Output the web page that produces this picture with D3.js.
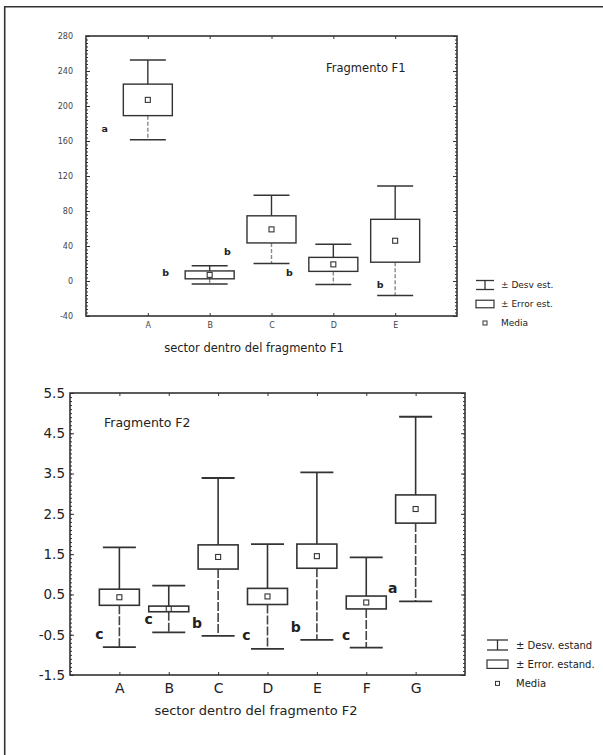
<!DOCTYPE html>
<html>
<head>
<meta charset="utf-8">
<script src="https://cdn.jsdelivr.net/npm/d3@7"></script>
<style>
body { margin: 0; background: #fff; }
svg { display: block; font-family: "DejaVu Sans", sans-serif; }
</style>
</head>
<body>
<svg id="chart" width="603" height="755"></svg>
<script>
// values (mean, +- standard error, +- standard deviation)
var f1Sectors = ["A", "B", "C", "D", "E"];
var f1Means = [207, 7, 59, 19, 46];
var f1SE = [18, 4.5, 15.5, 8, 24.5];
var f1SD = [45.5, 10.5, 39, 23, 62.5];
var f1Letters = ["a", "b", "b", "b", "b"];
var f1LetterAt = [174, 10, 33, 9, -4];
var f1Ticks = [-40, 0, 40, 80, 120, 160, 200, 240, 280];

var f2Sectors = ["A", "B", "C", "D", "E", "F", "G"];
var f2Means = [0.43, 0.14, 1.43, 0.45, 1.45, 0.30, 2.62];
var f2SE = [0.20, 0.07, 0.30, 0.20, 0.30, 0.16, 0.35];
var f2SD = [1.24, 0.58, 1.96, 1.30, 2.08, 1.12, 2.29];
var f2Letters = ["c", "c", "b", "c", "b", "c", "a"];
var f2LetterAt = [-0.49, -0.12, -0.2, -0.5, -0.3, -0.5, 0.65];
var f2Ticks = [-1.5, -0.5, 0.5, 1.5, 2.5, 3.5, 4.5, 5.5];

var ink = "#333";
var svg = d3.select("#chart");

// outer frame of the page (only top and left edges are visible)
svg.append("path")
    .attr("d", "M4.7,755V6.7H603")
    .attr("fill", "none")
    .attr("stroke", "#333")
    .attr("stroke-width", 1.6);

function drawPanel(p) {
    var x = d3.scalePoint().domain(p.sectors).range([p.left, p.right]).padding(1);
    var y = d3.scaleLinear().domain(p.domain).range([p.bottom, p.top]);
    var g = svg.append("g");

    var rows = p.sectors.map(function(s, i) {
        return {s: s, m: p.means[i], se: p.se[i], sd: p.sd[i],
                letter: p.letters[i], at: p.letterAt[i], dx: p.letterDx[i]};
    });

    // minor ticks, left and right
    var nMinor = Math.round((p.domain[1] - p.domain[0]) / p.minorStep);
    var minor = d3.range(nMinor + 1).map(function(i) { return p.domain[0] + i * p.minorStep; });
    g.append("g").attr("transform", "translate(" + p.left + ",0)")
        .call(d3.axisLeft(y).tickValues(minor).tickSize(-2).tickFormat(""));
    g.append("g").attr("transform", "translate(" + p.right + ",0)")
        .call(d3.axisRight(y).tickValues(minor).tickSize(-2).tickFormat(""));
    g.append("g").attr("transform", "translate(" + p.right + ",0)")
        .call(d3.axisRight(y).tickValues(p.ticks).tickSize(-4).tickFormat(""));

    // major y axis with labels
    var yAxis = g.append("g").attr("transform", "translate(" + p.left + ",0)")
        .call(d3.axisLeft(y).tickValues(p.ticks).tickSize(-4).tickPadding(p.yPad)
            .tickFormat(function(d) { return String(d); }));
    yAxis.selectAll("text").attr("font-size", p.yFont).attr("fill", p.yColor)
        .attr("font-family", "DejaVu Sans, sans-serif");

    // x axes
    var xAxis = g.append("g").attr("transform", "translate(0," + p.bottom + ")")
        .call(d3.axisBottom(x).tickSize(-3).tickPadding(p.xPad));
    xAxis.selectAll("text").attr("font-size", p.xFont).attr("fill", p.yColor)
        .attr("font-family", "DejaVu Sans, sans-serif");
    g.append("g").attr("transform", "translate(0," + p.top + ")")
        .call(d3.axisTop(x).tickSize(-3).tickFormat(""));

    g.selectAll(".domain").remove();
    g.selectAll(".tick line").attr("stroke", ink);

    // plot frame
    g.append("rect")
        .attr("x", p.left).attr("y", p.top)
        .attr("width", p.right - p.left).attr("height", p.bottom - p.top)
        .attr("fill", "none").attr("stroke", ink).attr("stroke-width", 1.6);

    var box = g.selectAll(".sector").data(rows).enter().append("g").attr("class", "sector");

    // upper whisker
    box.append("line")
        .attr("x1", function(d) { return x(d.s); }).attr("x2", function(d) { return x(d.s); })
        .attr("y1", function(d) { return y(d.m + d.se); }).attr("y2", function(d) { return y(d.m + d.sd); })
        .attr("stroke", ink).attr("stroke-width", p.lineW);
    // lower whisker (lighter, broken)
    box.append("line")
        .attr("x1", function(d) { return x(d.s); }).attr("x2", function(d) { return x(d.s); })
        .attr("y1", function(d) { return y(d.m - d.se); }).attr("y2", function(d) { return y(d.m - d.sd); })
        .attr("stroke", p.lowColor).attr("stroke-width", p.lineW).attr("stroke-dasharray", p.lowDash);
    // caps
    [1, -1].forEach(function(sign) {
        box.append("line")
            .attr("x1", function(d) { return x(d.s) - p.capW / 2; })
            .attr("x2", function(d) { return x(d.s) + p.capW / 2; })
            .attr("y1", function(d) { return y(d.m + sign * d.sd); })
            .attr("y2", function(d) { return y(d.m + sign * d.sd); })
            .attr("stroke", ink).attr("stroke-width", p.lineW + 0.2);
    });
    // standard error box
    box.append("rect")
        .attr("x", function(d) { return x(d.s) - p.boxW / 2; })
        .attr("y", function(d) { return y(d.m + d.se); })
        .attr("width", p.boxW)
        .attr("height", function(d) { return y(d.m - d.se) - y(d.m + d.se); })
        .attr("fill", "#fff").attr("stroke", ink).attr("stroke-width", p.lineW);
    // mean marker
    box.append("rect")
        .attr("x", function(d) { return x(d.s) - p.meanSize / 2; })
        .attr("y", function(d) { return y(d.m) - p.meanSize / 2; })
        .attr("width", p.meanSize).attr("height", p.meanSize)
        .attr("fill", "#fff").attr("stroke", ink).attr("stroke-width", 1.1);
    // group letters
    box.append("text")
        .attr("x", function(d) { return x(d.s) + d.dx; })
        .attr("y", function(d) { return y(d.at); })
        .attr("dy", "0.35em")
        .attr("text-anchor", "middle")
        .attr("font-weight", "bold")
        .attr("font-size", p.letterFont)
        .attr("fill", "#222")
        .text(function(d) { return d.letter; });

    // panel title inside the plot
    g.append("text")
        .attr("x", p.titleX).attr("y", p.titleY)
        .attr("font-size", p.titleFont).attr("fill", "#222")
        .text(p.title);

    // x axis title
    g.append("text")
        .attr("x", p.xTitleX).attr("y", p.xTitleY)
        .attr("text-anchor", "middle")
        .attr("font-size", p.xTitleFont).attr("fill", "#222")
        .text(p.xTitle);

    // legend
    var L = p.legend;
    var lg = g.append("g").attr("transform", "translate(" + L.x + "," + L.y + ")");
    var mid = L.w / 2;
    lg.append("line").attr("x1", 0).attr("x2", L.w).attr("y1", -L.h / 2).attr("y2", -L.h / 2)
        .attr("stroke", ink).attr("stroke-width", 1.3);
    lg.append("line").attr("x1", 0).attr("x2", L.w).attr("y1", L.h / 2).attr("y2", L.h / 2)
        .attr("stroke", ink).attr("stroke-width", 1.3);
    lg.append("line").attr("x1", mid).attr("x2", mid).attr("y1", -L.h / 2).attr("y2", L.h / 2)
        .attr("stroke", ink).attr("stroke-width", 1.3);
    lg.append("rect").attr("x", 0).attr("y", L.dy - L.h * 0.42).attr("width", L.w).attr("height", L.h * 0.84)
        .attr("fill", "#fff").attr("stroke", ink).attr("stroke-width", 1.2);
    lg.append("rect").attr("x", mid - 2).attr("y", 2 * L.dy - 2).attr("width", 4).attr("height", 4)
        .attr("fill", "#fff").attr("stroke", ink).attr("stroke-width", 1);
    lg.selectAll(".lab").data(L.labels).enter().append("text")
        .attr("class", "lab")
        .attr("x", L.textX)
        .attr("y", function(d, i) { return i * L.dy; })
        .attr("dy", "0.35em")
        .attr("font-size", L.font).attr("fill", "#222")
        .text(function(d) { return d; });
}

drawPanel({
    sectors: f1Sectors, means: f1Means, se: f1SE, sd: f1SD,
    letters: f1Letters, letterAt: f1LetterAt, letterDx: [-43, -44, -44, -44, -15],
    ticks: f1Ticks, domain: [-40, 280], minorStep: 4,
    left: 86, right: 457, top: 36, bottom: 316,
    yPad: 13, yFont: 8, xPad: 6, xFont: 8, yColor: "#444",
    boxW: 49, capW: 36, meanSize: 5, letterFont: 9.5,
    lineW: 1.4, lowColor: "#888", lowDash: "4,2",
    title: "Fragmento F1", titleX: 326, titleY: 72, titleFont: 11.5,
    xTitle: "sector dentro del fragmento F1", xTitleX: 254, xTitleY: 352, xTitleFont: 11.5,
    legend: {x: 476, y: 285, w: 18, h: 9, dy: 19, textX: 25, font: 9,
             labels: ["\u00b1 Desv est.", "\u00b1 Error est.", "Media"]}
});

drawPanel({
    sectors: f2Sectors, means: f2Means, se: f2SE, sd: f2SD,
    letters: f2Letters, letterAt: f2LetterAt, letterDx: [-20, -20, -21, -21, -21, -20, -23],
    ticks: f2Ticks, domain: [-1.5, 5.5], minorStep: 0.1,
    left: 70, right: 465, top: 393, bottom: 675,
    yPad: 5, yFont: 13.5, xPad: 8, xFont: 14, yColor: "#222",
    boxW: 40, capW: 33, meanSize: 5, letterFont: 14,
    lineW: 1.6, lowColor: "#444", lowDash: "9,2",
    title: "Fragmento F2", titleX: 104, titleY: 427, titleFont: 12.5,
    xTitle: "sector dentro del fragmento F2", xTitleX: 256, xTitleY: 715, xTitleFont: 13,
    legend: {x: 487, y: 645, w: 21, h: 10, dy: 19.2, textX: 29, font: 10,
             labels: ["\u00b1 Desv. estand", "\u00b1 Error. estand.", "Media"]}
});
</script>
</body>
</html>
